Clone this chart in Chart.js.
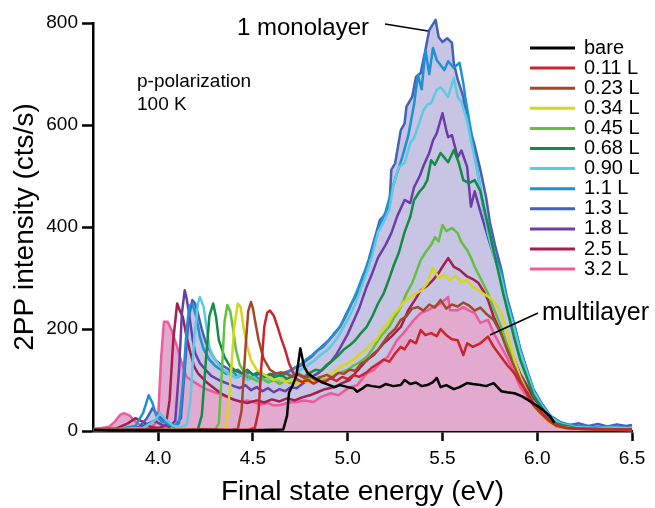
<!DOCTYPE html>
<html>
<head>
<meta charset="utf-8">
<script src="https://cdn.jsdelivr.net/npm/chart.js@4.4.1/dist/chart.umd.min.js"></script>
<style>
  html, body { margin: 0; padding: 0; background: #fff; }
  #wrap { width: 655px; height: 508px; position: relative; }
</style>
</head>
<body>
<div id="wrap"><canvas id="chart" width="655" height="508"></canvas></div>
<script>
// ============================================
// DATOS: energía (eV) / intensidad 2PP (cts/s)
// ============================================

const xTicks = [4.0, 4.5, 5.0, 5.5, 6.0, 6.5];
const yTicks = [0, 200, 400, 600, 800];

const seriesNames = ['bare', '0.11 L', '0.23 L', '0.34 L', '0.45 L', '0.68 L',
                     '0.90 L', '1.1 L', '1.3 L', '1.8 L', '2.5 L', '3.2 L'];

const seriesColors = ['#000000', '#c8262c', '#a4472b', '#d6d61c', '#62c040', '#128c42',
                      '#5ccae2', '#1f8fd6', '#4262b8', '#6a3ea6', '#a21f50', '#ef5a9e'];

const bare = [[3.66,2],[3.80,1],[3.95,2],[4.10,1],[4.25,2],[4.40,1],[4.55,2],[4.66,3],[4.68,30],[4.69,75],[4.71,90],[4.73,110],[4.75,162],[4.77,126],[4.79,113],[4.82,105],[4.86,96],[4.89,92],[4.93,86],[4.96,90],[5.00,86],[5.03,84],[5.05,77],[5.08,84],[5.10,90],[5.13,88],[5.17,86],[5.20,92],[5.24,88],[5.28,90],[5.30,100],[5.33,92],[5.36,95],[5.39,88],[5.42,90],[5.45,96],[5.47,104],[5.49,86],[5.52,90],[5.56,82],[5.59,86],[5.63,94],[5.66,92],[5.70,90],[5.73,88],[5.77,94],[5.81,78],[5.84,76],[5.88,74],[5.92,68],[5.95,61],[5.98,54],[6.01,47],[6.04,38],[6.07,28],[6.09,16]];

const cov011 = [[3.66,3],[3.80,2],[3.95,3],[4.10,2],[4.25,3],[4.40,2],[4.48,3],[4.51,6],[4.53,40],[4.545,130],[4.56,205],[4.575,232],[4.59,236],[4.61,226],[4.63,204],[4.65,180],[4.67,159],[4.69,133],[4.71,116],[4.73,102],[4.76,96],[4.79,100],[4.82,93],[4.85,99],[4.88,96],[4.91,104],[4.94,98],[4.97,106],[5.00,102],[5.03,110],[5.06,106],[5.10,115],[5.13,125],[5.16,132],[5.19,140],[5.22,136],[5.25,152],[5.28,165],[5.30,160],[5.33,178],[5.36,172],[5.385,198],[5.41,188],[5.44,192],[5.47,186],[5.49,200],[5.52,188],[5.55,180],[5.58,178],[5.61,149],[5.63,172],[5.66,165],[5.70,172],[5.74,185],[5.77,165],[5.80,150],[5.84,130],[5.88,113],[5.91,95],[5.95,74],[5.98,55],[6.02,38],[6.06,22],[6.10,12],[6.15,6],[6.25,4],[6.35,3],[6.50,3]];

const cov023 = [[3.66,2],[3.85,3],[4.05,2],[4.25,3],[4.38,2],[4.42,4],[4.44,40],[4.46,160],[4.475,235],[4.49,253],[4.50,240],[4.51,218],[4.53,178],[4.555,143],[4.59,120],[4.62,113],[4.65,115],[4.68,112],[4.71,106],[4.74,110],[4.77,104],[4.80,108],[4.83,100],[4.86,106],[4.89,110],[4.92,104],[4.95,114],[4.98,112],[5.01,120],[5.04,118],[5.07,132],[5.10,138],[5.13,150],[5.16,159],[5.19,175],[5.22,190],[5.25,200],[5.28,218],[5.31,225],[5.34,240],[5.37,243],[5.40,236],[5.43,248],[5.46,242],[5.49,257],[5.52,240],[5.55,248],[5.58,244],[5.61,252],[5.64,246],[5.67,236],[5.70,242],[5.73,230],[5.77,218],[5.81,190],[5.84,160],[5.88,125],[5.91,100],[5.95,70],[5.98,50],[6.02,34],[6.06,20],[6.10,10],[6.18,5],[6.30,3],[6.50,3]];

const cov034 = [[3.66,2],[3.85,2],[4.05,3],[4.20,2],[4.33,3],[4.36,10],[4.38,90],[4.40,200],[4.42,250],[4.435,243],[4.45,204],[4.47,165],[4.49,139],[4.52,120],[4.55,113],[4.58,106],[4.61,100],[4.64,104],[4.67,96],[4.70,100],[4.73,92],[4.76,98],[4.79,94],[4.82,102],[4.85,98],[4.88,108],[4.91,113],[4.94,120],[4.97,128],[5.00,133],[5.03,140],[5.06,150],[5.09,158],[5.12,170],[5.15,178],[5.18,198],[5.21,210],[5.24,228],[5.27,240],[5.30,255],[5.33,262],[5.36,270],[5.39,276],[5.42,290],[5.45,320],[5.48,300],[5.51,306],[5.54,296],[5.57,305],[5.60,292],[5.63,296],[5.66,282],[5.69,276],[5.72,268],[5.75,262],[5.78,250],[5.81,230],[5.84,195],[5.88,140],[5.91,105],[5.95,72],[5.98,50],[6.02,32],[6.06,18],[6.10,9],[6.20,4],[6.35,3],[6.50,2]];

const cov045 = [[3.66,2],[3.85,3],[4.05,2],[4.20,3],[4.30,3],[4.32,15],[4.335,110],[4.35,215],[4.365,247],[4.38,235],[4.395,200],[4.41,160],[4.43,130],[4.46,112],[4.49,104],[4.52,98],[4.55,102],[4.58,95],[4.61,100],[4.64,92],[4.67,98],[4.70,94],[4.73,100],[4.76,96],[4.79,104],[4.82,100],[4.85,106],[4.88,100],[4.91,104],[4.94,112],[4.97,116],[5.00,120],[5.03,128],[5.06,134],[5.10,145],[5.13,160],[5.16,178],[5.19,192],[5.22,205],[5.25,225],[5.28,243],[5.31,270],[5.34,290],[5.36,310],[5.385,335],[5.41,350],[5.44,365],[5.46,380],[5.48,372],[5.50,404],[5.52,392],[5.55,398],[5.58,388],[5.60,370],[5.63,355],[5.65,340],[5.67,322],[5.70,300],[5.74,270],[5.77,240],[5.81,204],[5.84,170],[5.88,139],[5.91,108],[5.95,75],[5.98,54],[6.02,35],[6.06,20],[6.10,10],[6.20,5],[6.35,3],[6.50,3]];

const cov068 = [[3.66,2],[3.85,3],[4.00,2],[4.15,3],[4.21,4],[4.23,30],[4.25,130],[4.27,225],[4.29,250],[4.305,224],[4.32,178],[4.35,145],[4.38,126],[4.41,118],[4.44,113],[4.47,120],[4.50,110],[4.53,116],[4.56,106],[4.59,112],[4.62,104],[4.65,110],[4.68,102],[4.71,108],[4.74,112],[4.77,106],[4.80,114],[4.83,120],[4.86,118],[4.89,130],[4.92,138],[4.95,148],[4.98,160],[5.01,168],[5.04,178],[5.07,192],[5.10,204],[5.13,225],[5.16,250],[5.19,270],[5.22,300],[5.24,322],[5.27,350],[5.30,390],[5.33,420],[5.35,453],[5.38,470],[5.40,478],[5.42,492],[5.44,531],[5.46,522],[5.49,545],[5.51,536],[5.53,527],[5.56,551],[5.585,527],[5.61,492],[5.64,486],[5.67,492],[5.70,470],[5.73,420],[5.76,370],[5.79,320],[5.82,270],[5.85,225],[5.88,180],[5.91,140],[5.95,100],[5.98,70],[6.02,48],[6.06,28],[6.10,15],[6.20,6],[6.35,4],[6.50,3]];

const cov090 = [[3.66,3],[3.80,4],[3.92,6],[3.98,20],[4.01,35],[4.04,22],[4.08,10],[4.12,8],[4.15,12],[4.17,60],[4.19,180],[4.21,250],[4.22,263],[4.24,243],[4.255,204],[4.27,165],[4.29,145],[4.32,130],[4.35,118],[4.38,110],[4.41,104],[4.44,112],[4.47,100],[4.50,108],[4.53,96],[4.56,104],[4.59,98],[4.62,106],[4.65,94],[4.68,102],[4.71,110],[4.74,118],[4.77,124],[4.80,132],[4.83,140],[4.86,150],[4.89,158],[4.92,170],[4.95,185],[4.98,205],[5.01,225],[5.04,250],[5.07,280],[5.10,310],[5.13,345],[5.16,390],[5.19,410],[5.22,435],[5.24,480],[5.27,518],[5.30,525],[5.33,565],[5.35,575],[5.37,596],[5.40,629],[5.42,640],[5.44,643],[5.47,669],[5.49,674],[5.51,665],[5.53,655],[5.56,692],[5.58,655],[5.60,645],[5.63,610],[5.65,570],[5.68,518],[5.71,450],[5.74,388],[5.77,345],[5.81,300],[5.84,250],[5.88,200],[5.91,155],[5.95,110],[5.98,78],[6.02,52],[6.07,28],[6.12,15],[6.20,8],[6.30,6],[6.40,7],[6.50,5]];

const cov11 = [[3.66,3],[3.80,5],[3.88,10],[3.92,35],[3.95,70],[3.97,55],[3.99,30],[4.02,18],[4.05,15],[4.08,8],[4.11,15],[4.13,90],[4.15,200],[4.165,245],[4.18,250],[4.20,225],[4.22,185],[4.24,160],[4.27,140],[4.30,128],[4.33,120],[4.36,112],[4.39,118],[4.42,106],[4.45,112],[4.48,102],[4.51,108],[4.54,100],[4.57,106],[4.60,98],[4.63,104],[4.66,110],[4.69,116],[4.72,124],[4.75,130],[4.78,140],[4.81,148],[4.84,158],[4.87,165],[4.90,178],[4.93,190],[4.96,205],[4.99,225],[5.02,250],[5.05,275],[5.08,305],[5.11,330],[5.14,370],[5.17,405],[5.20,430],[5.23,470],[5.26,505],[5.29,540],[5.32,580],[5.35,640],[5.37,698],[5.39,670],[5.41,747],[5.43,700],[5.45,751],[5.47,727],[5.51,708],[5.53,725],[5.56,712],[5.59,722],[5.61,682],[5.62,655],[5.65,590],[5.68,520],[5.71,450],[5.74,390],[5.77,350],[5.81,310],[5.84,258],[5.88,205],[5.91,160],[5.95,113],[5.98,80],[6.02,55],[6.07,28],[6.12,16],[6.20,10],[6.30,8],[6.40,9],[6.50,6]];

const cov13 = [[3.66,3],[3.80,4],[3.90,8],[3.94,25],[3.97,45],[4.00,30],[4.03,20],[4.06,12],[4.09,10],[4.12,25],[4.14,120],[4.16,220],[4.18,257],[4.195,250],[4.21,230],[4.23,200],[4.25,175],[4.27,160],[4.30,140],[4.33,130],[4.36,124],[4.39,116],[4.42,120],[4.45,110],[4.48,116],[4.51,108],[4.54,114],[4.57,106],[4.60,112],[4.63,108],[4.66,114],[4.69,118],[4.72,124],[4.75,128],[4.78,138],[4.81,146],[4.84,158],[4.87,168],[4.90,178],[4.93,192],[4.96,205],[4.99,228],[5.02,250],[5.05,270],[5.08,300],[5.11,335],[5.14,375],[5.17,414],[5.20,425],[5.22,440],[5.23,512],[5.25,525],[5.28,590],[5.30,603],[5.31,636],[5.34,655],[5.36,694],[5.385,702],[5.41,747],[5.43,786],[5.464,806],[5.48,772],[5.50,763],[5.526,770],[5.55,761],[5.56,721],[5.58,690],[5.61,655],[5.63,610],[5.667,564],[5.70,512],[5.73,459],[5.75,410],[5.78,360],[5.81,318],[5.84,262],[5.88,208],[5.91,162],[5.95,115],[5.98,82],[6.02,56],[6.07,30],[6.12,18],[6.17,12],[6.22,15],[6.27,10],[6.32,14],[6.37,9],[6.42,13],[6.47,10],[6.50,12]];

const cov18 = [[3.66,3],[3.80,3],[3.90,6],[3.95,15],[3.98,20],[4.02,12],[4.06,8],[4.09,20],[4.11,120],[4.125,230],[4.14,276],[4.15,260],[4.16,237],[4.18,184],[4.195,153],[4.22,133],[4.25,120],[4.28,108],[4.32,100],[4.36,94],[4.40,88],[4.43,84],[4.46,90],[4.49,80],[4.52,86],[4.55,78],[4.58,84],[4.61,76],[4.64,82],[4.67,78],[4.70,86],[4.73,84],[4.76,92],[4.79,100],[4.82,108],[4.85,115],[4.88,125],[4.91,135],[4.94,150],[4.97,170],[5.00,190],[5.03,215],[5.06,240],[5.10,283],[5.13,310],[5.16,340],[5.20,365],[5.23,388],[5.26,420],[5.30,453],[5.33,447],[5.35,478],[5.38,500],[5.40,520],[5.43,545],[5.45,570],[5.47,584],[5.50,623],[5.52,590],[5.53,576],[5.55,580],[5.58,537],[5.60,550],[5.63,518],[5.65,440],[5.67,470],[5.70,430],[5.74,380],[5.77,345],[5.81,300],[5.84,250],[5.88,200],[5.91,155],[5.95,110],[5.98,78],[6.02,52],[6.07,26],[6.12,14],[6.20,7],[6.30,5],[6.40,6],[6.50,4]];

const cov25 = [[3.66,3],[3.78,5],[3.84,15],[3.88,25],[3.92,18],[3.96,8],[4.00,6],[4.04,10],[4.06,60],[4.08,180],[4.10,250],[4.115,235],[4.13,224],[4.15,184],[4.17,153],[4.19,126],[4.21,113],[4.26,94],[4.33,74],[4.40,61],[4.47,55],[4.52,60],[4.56,56],[4.60,62],[4.64,58],[4.68,64],[4.72,60],[4.76,66],[4.80,70],[4.84,76],[4.88,82],[4.93,86],[4.97,94],[5.01,100],[5.05,118],[5.10,139],[5.14,150],[5.19,172],[5.23,185],[5.28,204],[5.32,237],[5.36,260],[5.385,276],[5.42,285],[5.45,296],[5.48,310],[5.50,322],[5.53,339],[5.56,322],[5.59,316],[5.63,303],[5.66,298],[5.69,290],[5.72,272],[5.74,257],[5.77,224],[5.81,192],[5.84,165],[5.88,139],[5.91,112],[5.95,86],[5.98,65],[6.02,47],[6.07,25],[6.12,12],[6.20,6],[6.35,4],[6.50,3]];

const cov32 = [[3.66,5],[3.70,6],[3.74,8],[3.77,18],[3.80,32],[3.82,35],[3.85,30],[3.87,22],[3.89,15],[3.92,10],[3.95,8],[3.98,12],[4.00,30],[4.015,140],[4.03,214],[4.05,214],[4.07,198],[4.10,165],[4.13,126],[4.15,106],[4.19,96],[4.24,84],[4.29,77],[4.33,72],[4.36,67],[4.40,62],[4.43,57],[4.47,60],[4.50,57],[4.54,52],[4.58,55],[4.61,50],[4.645,51],[4.69,56],[4.73,57],[4.77,60],[4.82,57],[4.86,67],[4.91,74],[4.95,70],[5.01,86],[5.05,90],[5.10,113],[5.14,120],[5.17,133],[5.21,145],[5.26,178],[5.29,190],[5.32,204],[5.35,218],[5.385,231],[5.42,236],[5.45,243],[5.49,250],[5.53,263],[5.54,237],[5.58,237],[5.61,243],[5.64,236],[5.67,231],[5.70,212],[5.74,218],[5.77,192],[5.81,165],[5.84,145],[5.88,113],[5.91,86],[5.97,55],[6.02,35],[6.07,22],[6.12,8],[6.18,4],[6.30,3],[6.40,2],[6.50,2]];

const seriesData = [bare, cov011, cov023, cov034, cov045, cov068, cov090, cov11, cov13, cov18, cov25, cov32];

// rellenos: monocapa (1.3 L) y multicapa (3.2 L)
const fillMono = '#c7c4e4';
const fillMulti = '#e2aacf';

const FONT = '"Liberation Sans", Arial, Helvetica, sans-serif';

// ============================================
// DATASETS
// ============================================

function toPoints(pairs) {
    return pairs.map(p => ({ x: p[0], y: p[1] }));
}

const datasets = seriesData.map((pairs, i) => ({
    label: seriesNames[i],
    data: toPoints(pairs),
    borderColor: seriesColors[i],
    borderWidth: 2.5,
    borderJoinStyle: 'round',
    pointRadius: 0,
    fill: false,
    clip: false
}));

// los rellenos van al final para que se dibujen debajo de todas las líneas
datasets.push({
    label: 'fill-multi',
    data: toPoints(cov32),
    borderWidth: 0,
    pointRadius: 0,
    backgroundColor: fillMulti,
    fill: 'origin'
});
datasets.push({
    label: 'fill-mono',
    data: toPoints(cov13),
    borderWidth: 0,
    pointRadius: 0,
    backgroundColor: fillMono,
    fill: 'origin',
    clip: false
});

// ============================================
// LEYENDA Y ANOTACIONES
// ============================================

const overlayPlugin = {
    id: 'overlay',
    afterDraw(chart) {
        const ctx = chart.ctx;
        ctx.save();

        // leyenda
        ctx.font = '20px ' + FONT;
        ctx.textBaseline = 'middle';
        ctx.textAlign = 'left';
        seriesNames.forEach((name, i) => {
            const y = 48 + i * 20.1;
            ctx.strokeStyle = seriesColors[i];
            ctx.lineWidth = 3;
            ctx.beginPath();
            ctx.moveTo(530, y);
            ctx.lineTo(575, y);
            ctx.stroke();
            ctx.fillStyle = '#000';
            ctx.fillText(name, 584, y);
        });

        // textos
        ctx.fillStyle = '#000';
        ctx.textBaseline = 'alphabetic';
        ctx.font = '19px ' + FONT;
        ctx.fillText('p-polarization', 137, 87);
        ctx.fillText('100 K', 137, 110);

        ctx.font = '24px ' + FONT;
        ctx.textAlign = 'right';
        ctx.fillText('1 monolayer', 369, 35);
        ctx.textAlign = 'left';
        ctx.font = '25px ' + FONT;
        ctx.fillText('multilayer', 542, 320);

        // líneas guía
        ctx.strokeStyle = '#000';
        ctx.lineWidth = 1.5;
        ctx.beginPath();
        ctx.moveTo(385, 24);
        ctx.lineTo(428, 31);
        ctx.moveTo(538, 313);
        ctx.lineTo(490, 335);
        ctx.stroke();

        ctx.restore();
    }
};

// ============================================
// GRÁFICO
// ============================================

new Chart(document.getElementById('chart'), {
    type: 'line',
    data: { datasets: datasets },
    options: {
        responsive: false,
        animation: false,
        events: [],
        layout: { padding: { left: 0, top: 23, right: 23, bottom: 0 } },
        plugins: {
            legend: { display: false },
            tooltip: { enabled: false }
        },
        scales: {
            x: {
                type: 'linear',
                min: 3.656,
                max: 6.5,
                afterBuildTicks: s => { s.ticks = xTicks.map(v => ({ value: v })); },
                afterFit: s => { s.height = 77; },
                ticks: {
                    callback: v => Number(v).toFixed(1),
                    color: '#000',
                    font: { family: FONT, size: 19 },
                    padding: 6,
                    maxRotation: 0,
                    autoSkip: false
                },
                grid: { drawOnChartArea: false, drawTicks: true, tickLength: 10, tickWidth: 2.5, tickColor: '#000' },
                border: { display: true, color: '#000', width: 2.5 },
                title: {
                    display: true,
                    text: 'Final state energy (eV)',
                    color: '#000',
                    font: { family: FONT, size: 28, lineHeight: 1 },
                    padding: { top: 0, bottom: 2 }
                }
            },
            y: {
                type: 'linear',
                min: 0,
                max: 800,
                afterBuildTicks: s => { s.ticks = yTicks.map(v => ({ value: v })); },
                afterFit: s => { s.width = 93; },
                ticks: {
                    color: '#000',
                    font: { family: FONT, size: 19 },
                    padding: 4
                },
                grid: { drawOnChartArea: false, drawTicks: true, tickLength: 11, tickWidth: 2.5, tickColor: '#000' },
                border: { display: true, color: '#000', width: 2.5 },
                title: {
                    display: true,
                    text: '2PP intensity (cts/s)',
                    color: '#000',
                    font: { family: FONT, size: 28, lineHeight: 1 },
                    padding: { top: 11, bottom: 0 }
                }
            }
        }
    },
    plugins: [overlayPlugin]
});
</script>
</body>
</html>
